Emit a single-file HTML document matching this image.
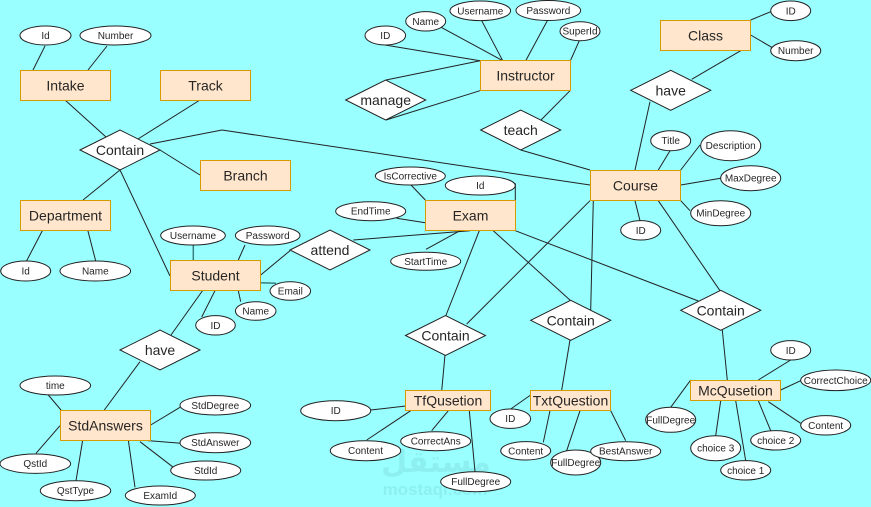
<!DOCTYPE html>
<html><head><meta charset="utf-8"><style>
html,body{margin:0;padding:0;background:#99ffff;}
svg{display:block;}
text{font-family:"Liberation Sans",Arial,sans-serif;fill:#262626;}
.e{fill:#ffe6cc;stroke:#d79b00;stroke-width:1;}
.d{fill:#fff;stroke:#222;stroke-width:1;}
.o{fill:#fff;stroke:#222;stroke-width:1;}
.l line,.l polyline{stroke:#222;stroke-width:1;fill:none;}
.t14{font-size:14px;}
.t10{font-size:10px;}
</style></head><body>
<svg width="871" height="507" viewBox="0 0 871 507" xmlns="http://www.w3.org/2000/svg">
<rect width="871" height="507" fill="#99ffff"/>
<g opacity="0.9">
<text x="436" y="472" text-anchor="middle" style="font-family:'DejaVu Sans',sans-serif;font-size:30px;font-weight:bold;fill:#8ceeee">مستقل</text>
<text x="435" y="495" text-anchor="middle" style="font-family:'Liberation Sans',sans-serif;font-size:17px;font-weight:bold;fill:#8ceeee">mostaql.com</text>
</g>
<g class="l">
<line x1="45" y1="46" x2="33" y2="70"/>
<line x1="107" y1="46" x2="88" y2="70"/>
<line x1="65" y1="100" x2="106" y2="137"/>
<line x1="200" y1="100" x2="138" y2="139"/>
<polyline points="150,144 222,130 590,185"/>
<line x1="160" y1="150" x2="200" y2="175"/>
<line x1="120" y1="170" x2="83" y2="200"/>
<line x1="120" y1="170" x2="170" y2="276"/>
<line x1="42.7" y1="230" x2="26" y2="262"/>
<line x1="87.7" y1="230" x2="95.7" y2="261"/>
<line x1="193.3" y1="245" x2="193.3" y2="260" style="stroke:#3a7f7f;stroke-width:1.5"/>
<line x1="245" y1="245" x2="238.3" y2="260"/>
<line x1="260.7" y1="275" x2="290" y2="250.7"/>
<line x1="260.7" y1="282.7" x2="276" y2="283.3" style="stroke:#3a7f7f;stroke-width:1.5"/>
<line x1="238.3" y1="290.7" x2="240.7" y2="301.7"/>
<line x1="215" y1="290.7" x2="201.7" y2="317"/>
<line x1="203" y1="290" x2="171" y2="335"/>
<line x1="140" y1="361.7" x2="104.3" y2="410"/>
<line x1="48.3" y1="395" x2="61" y2="410"/>
<line x1="150.7" y1="425" x2="180" y2="407.3"/>
<line x1="140" y1="440" x2="181" y2="443.3"/>
<line x1="140" y1="441.7" x2="173.3" y2="467.3"/>
<line x1="128.3" y1="440" x2="135" y2="487.3"/>
<line x1="82.7" y1="440" x2="76" y2="480.7"/>
<line x1="60" y1="425.7" x2="36" y2="453.3"/>
<line x1="385" y1="45" x2="480" y2="60.7"/>
<line x1="440" y1="26.7" x2="502.7" y2="60.7"/>
<line x1="481.7" y1="20.7" x2="502.7" y2="60.7"/>
<line x1="547.3" y1="20.7" x2="525.7" y2="60.7"/>
<line x1="579.3" y1="40.7" x2="570.7" y2="60"/>
<line x1="386" y1="80" x2="480" y2="60.7"/>
<line x1="386" y1="120" x2="480" y2="90.7"/>
<line x1="570" y1="90.7" x2="541" y2="120"/>
<line x1="520.7" y1="150" x2="590" y2="170"/>
<line x1="411" y1="185" x2="425.3" y2="200"/>
<line x1="515.3" y1="183.3" x2="515.3" y2="200"/>
<line x1="396.7" y1="218.3" x2="425.3" y2="222.7"/>
<line x1="353.3" y1="240" x2="470" y2="230.7"/>
<line x1="426" y1="249.3" x2="460" y2="230.7"/>
<line x1="479.3" y1="230.7" x2="445.7" y2="316"/>
<line x1="493.3" y1="230.7" x2="570.7" y2="300.7"/>
<line x1="515.3" y1="230.7" x2="698.3" y2="301"/>
<line x1="590" y1="200.7" x2="466.7" y2="324"/>
<line x1="593.3" y1="200.7" x2="590.7" y2="310"/>
<line x1="658.3" y1="200.7" x2="720" y2="290.7"/>
<line x1="635" y1="200.7" x2="640" y2="220.7"/>
<line x1="691.7" y1="79.3" x2="740.7" y2="50.7"/>
<line x1="650" y1="101.7" x2="635" y2="170"/>
<line x1="750.7" y1="20" x2="770.7" y2="11.7"/>
<line x1="750.7" y1="35" x2="771.7" y2="47.3"/>
<line x1="670" y1="150.7" x2="658.3" y2="170"/>
<line x1="700" y1="145" x2="680.7" y2="170"/>
<line x1="680.7" y1="185" x2="720.7" y2="178.3"/>
<line x1="680.7" y1="200.7" x2="690" y2="210.7"/>
<line x1="722.3" y1="330" x2="727.3" y2="380"/>
<line x1="790.7" y1="360" x2="758.3" y2="380"/>
<line x1="780.7" y1="390" x2="800.7" y2="380.7"/>
<line x1="768.3" y1="401.7" x2="800.7" y2="423.3"/>
<line x1="758.3" y1="400.7" x2="770.7" y2="430.7"/>
<line x1="735.7" y1="400.7" x2="745.7" y2="460.7"/>
<line x1="720.7" y1="400.7" x2="715.7" y2="435.7"/>
<line x1="690.7" y1="380" x2="670.7" y2="407.3"/>
<line x1="445" y1="355" x2="441.7" y2="390.7"/>
<line x1="370.7" y1="410" x2="405.7" y2="406"/>
<line x1="366.7" y1="440" x2="410.7" y2="410.7"/>
<line x1="431.7" y1="430.7" x2="448.3" y2="410.7"/>
<line x1="469.3" y1="410.7" x2="475" y2="471.7"/>
<line x1="570" y1="340" x2="561.7" y2="390"/>
<line x1="530.7" y1="395" x2="510.7" y2="409"/>
<line x1="550" y1="410.7" x2="543.3" y2="442.3"/>
<line x1="580" y1="410.7" x2="566.7" y2="450.7"/>
<line x1="610.7" y1="410.7" x2="625.7" y2="440.7"/>
</g>

<!-- Entities -->
<g>
<rect class="e" x="20.5" y="70.5" width="90" height="30"/><text class="t14" x="65.5" y="90.5" text-anchor="middle">Intake</text>
<rect class="e" x="160.5" y="70.5" width="90" height="30"/><text class="t14" x="205.5" y="90.5" text-anchor="middle">Track</text>
<rect class="e" x="200.5" y="160.5" width="90" height="30"/><text class="t14" x="245.5" y="180.5" text-anchor="middle">Branch</text>
<rect class="e" x="20.5" y="200.5" width="90" height="30"/><text class="t14" x="65.5" y="220.5" text-anchor="middle">Department</text>
<rect class="e" x="170.5" y="260.5" width="90" height="30"/><text class="t14" x="215.5" y="280.5" text-anchor="middle">Student</text>
<rect class="e" x="60.5" y="410.5" width="90" height="30"/><text class="t14" x="105.5" y="430.5" text-anchor="middle">StdAnswers</text>
<rect class="e" x="480.5" y="60.5" width="90" height="30"/><text class="t14" x="525.5" y="80.5" text-anchor="middle">Instructor</text>
<rect class="e" x="425.5" y="200.5" width="90" height="30"/><text class="t14" x="470.5" y="220.5" text-anchor="middle">Exam</text>
<rect class="e" x="590.5" y="170.5" width="90" height="30"/><text class="t14" x="635.5" y="190.5" text-anchor="middle">Course</text>
<rect class="e" x="660.5" y="20.5" width="90" height="30"/><text class="t14" x="705.5" y="40.5" text-anchor="middle">Class</text>
<rect class="e" x="405.5" y="390.5" width="85" height="20"/><text class="t14" x="448" y="405.5" text-anchor="middle">TfQusetion</text>
<rect class="e" x="530.5" y="390.5" width="80" height="20"/><text class="t14" x="570.5" y="405.5" text-anchor="middle">TxtQuestion</text>
<rect class="e" x="690.5" y="380.5" width="90" height="20"/><text class="t14" x="735.5" y="395.5" text-anchor="middle">McQusetion</text>
</g>

<!-- Relationships -->
<g>
<polygon class="d" points="80,150 120,130 160,150 120,170"/><text class="t14" x="120" y="155" text-anchor="middle">Contain</text>
<polygon class="d" points="345.7,100 385.7,80 425.7,100 385.7,120"/><text class="t14" x="385.7" y="105" text-anchor="middle">manage</text>
<polygon class="d" points="480.7,130 520.7,110 560.7,130 520.7,150"/><text class="t14" x="520.7" y="135" text-anchor="middle">teach</text>
<polygon class="d" points="630.7,90.3 670.7,70.3 710.7,90.3 670.7,110.3"/><text class="t14" x="670.7" y="95.3" text-anchor="middle">have</text>
<polygon class="d" points="290,250 330,230 370,250 330,270"/><text class="t14" x="330" y="255" text-anchor="middle">attend</text>
<polygon class="d" points="120,350 160,330 200,350 160,370"/><text class="t14" x="160" y="355" text-anchor="middle">have</text>
<polygon class="d" points="405.5,335.5 445.5,315.5 485.5,335.5 445.5,355.5"/><text class="t14" x="445.5" y="340.5" text-anchor="middle">Contain</text>
<polygon class="d" points="530.7,320.3 570.7,300.3 610.7,320.3 570.7,340.3"/><text class="t14" x="570.7" y="325.3" text-anchor="middle">Contain</text>
<polygon class="d" points="680.7,310.3 720.7,290.3 760.7,310.3 720.7,330.3"/><text class="t14" x="720.7" y="315.3" text-anchor="middle">Contain</text>
</g>

<!-- Attributes -->
<g>
<ellipse class="o" cx="45.5" cy="35.5" rx="25.5" ry="9.5"/><text class="t10" x="45.5" y="39" text-anchor="middle">Id</text>
<ellipse class="o" cx="115.5" cy="35.5" rx="35.5" ry="9.5"/><text class="t10" x="115.5" y="39" text-anchor="middle">Number</text>
<ellipse class="o" cx="25.7" cy="271" rx="25" ry="10"/><text class="t10" x="25.7" y="274.5" text-anchor="middle">Id</text>
<ellipse class="o" cx="95.3" cy="271" rx="35.3" ry="10"/><text class="t10" x="95.3" y="274.5" text-anchor="middle">Name</text>
<ellipse class="o" cx="193" cy="235.5" rx="32.3" ry="9.5"/><text class="t10" x="193" y="239" text-anchor="middle">Username</text>
<ellipse class="o" cx="267.7" cy="235.5" rx="32.3" ry="9.5"/><text class="t10" x="267.7" y="239" text-anchor="middle">Password</text>
<ellipse class="o" cx="290.3" cy="291" rx="20.3" ry="9.3"/><text class="t10" x="290.3" y="294.5" text-anchor="middle">Email</text>
<ellipse class="o" cx="255.7" cy="311" rx="20.3" ry="9.3"/><text class="t10" x="255.7" y="314.5" text-anchor="middle">Name</text>
<ellipse class="o" cx="215.5" cy="325.3" rx="19.8" ry="9.7"/><text class="t10" x="215.5" y="328.8" text-anchor="middle">ID</text>
<ellipse class="o" cx="55.3" cy="385.5" rx="35.3" ry="9.5"/><text class="t10" x="55.3" y="389" text-anchor="middle">time</text>
<ellipse class="o" cx="215.3" cy="405.3" rx="35.3" ry="9.7"/><text class="t10" x="215.3" y="408.8" text-anchor="middle">StdDegree</text>
<ellipse class="o" cx="215.3" cy="442.7" rx="35.3" ry="10"/><text class="t10" x="215.3" y="446.2" text-anchor="middle">StdAnswer</text>
<ellipse class="o" cx="205.7" cy="470.5" rx="35" ry="9.5"/><text class="t10" x="205.7" y="474" text-anchor="middle">StdId</text>
<ellipse class="o" cx="160.3" cy="495.5" rx="35" ry="9.5"/><text class="t10" x="160.3" y="499" text-anchor="middle">ExamId</text>
<ellipse class="o" cx="75.5" cy="490.7" rx="35.2" ry="10"/><text class="t10" x="75.5" y="494.2" text-anchor="middle">QstType</text>
<ellipse class="o" cx="35.3" cy="463.7" rx="35.3" ry="9.7"/><text class="t10" x="35.3" y="467.2" text-anchor="middle">QstId</text>
<ellipse class="o" cx="385.3" cy="35.5" rx="20.3" ry="9.5"/><text class="t10" x="385.3" y="39" text-anchor="middle">ID</text>
<ellipse class="o" cx="425.7" cy="21.3" rx="20" ry="9.7"/><text class="t10" x="425.7" y="24.8" text-anchor="middle">Name</text>
<ellipse class="o" cx="480.3" cy="10.8" rx="30.3" ry="9.8"/><text class="t10" x="480.3" y="14.3" text-anchor="middle">Username</text>
<ellipse class="o" cx="548.3" cy="10.5" rx="32.3" ry="10"/><text class="t10" x="548.3" y="14" text-anchor="middle">Password</text>
<ellipse class="o" cx="580" cy="31.2" rx="20" ry="9.5"/><text class="t10" x="580" y="34.7" text-anchor="middle">SuperId</text>
<ellipse class="o" cx="410.3" cy="176" rx="35" ry="9"/><text class="t10" x="410.3" y="179.5" text-anchor="middle">IsCorrective</text>
<ellipse class="o" cx="480.3" cy="185.5" rx="35" ry="9.5"/><text class="t10" x="480.3" y="189" text-anchor="middle">Id</text>
<ellipse class="o" cx="370.7" cy="211.2" rx="35" ry="9.5"/><text class="t10" x="370.7" y="214.7" text-anchor="middle">EndTime</text>
<ellipse class="o" cx="425.7" cy="261.3" rx="35" ry="9"/><text class="t10" x="425.7" y="264.8" text-anchor="middle">StartTime</text>
<ellipse class="o" cx="640.7" cy="230.3" rx="20" ry="9.7"/><text class="t10" x="640.7" y="233.8" text-anchor="middle">ID</text>
<ellipse class="o" cx="790.7" cy="10.8" rx="20" ry="9.8"/><text class="t10" x="790.7" y="14.3" text-anchor="middle">ID</text>
<ellipse class="o" cx="795.7" cy="50.7" rx="25" ry="10"/><text class="t10" x="795.7" y="54.2" text-anchor="middle">Number</text>
<ellipse class="o" cx="670.7" cy="140.7" rx="20" ry="10"/><text class="t10" x="670.7" y="144.2" text-anchor="middle">Title</text>
<ellipse class="o" cx="730.7" cy="145.7" rx="30" ry="15"/><text class="t10" x="730.7" y="149.2" text-anchor="middle">Description</text>
<ellipse class="o" cx="750.7" cy="178.2" rx="30" ry="12.5"/><text class="t10" x="750.7" y="181.7" text-anchor="middle">MaxDegree</text>
<ellipse class="o" cx="720.7" cy="213.2" rx="30" ry="12.5"/><text class="t10" x="720.7" y="216.7" text-anchor="middle">MinDegree</text>
<ellipse class="o" cx="790.7" cy="350.3" rx="20" ry="9.7"/><text class="t10" x="790.7" y="353.8" text-anchor="middle">ID</text>
<ellipse class="o" cx="835.7" cy="380.3" rx="35" ry="10.3"/><text class="t10" x="835.7" y="383.8" text-anchor="middle">CorrectChoice</text>
<ellipse class="o" cx="825.7" cy="425.3" rx="25" ry="9.7"/><text class="t10" x="825.7" y="428.8" text-anchor="middle">Content</text>
<ellipse class="o" cx="775.7" cy="440.3" rx="25" ry="9.7"/><text class="t10" x="775.7" y="443.8" text-anchor="middle">choice 2</text>
<ellipse class="o" cx="745.7" cy="470.3" rx="25" ry="9.7"/><text class="t10" x="745.7" y="473.8" text-anchor="middle">choice 1</text>
<ellipse class="o" cx="715.7" cy="448.2" rx="25" ry="12.5"/><text class="t10" x="715.7" y="451.7" text-anchor="middle">choice 3</text>
<ellipse class="o" cx="670.7" cy="419.8" rx="25" ry="12.5"/><text class="t10" x="670.7" y="423.3" text-anchor="middle">FullDegree</text>
<ellipse class="o" cx="335.7" cy="410.7" rx="35" ry="10"/><text class="t10" x="335.7" y="414.2" text-anchor="middle">ID</text>
<ellipse class="o" cx="365.5" cy="450.7" rx="35.2" ry="10"/><text class="t10" x="365.5" y="454.2" text-anchor="middle">Content</text>
<ellipse class="o" cx="435.7" cy="441.2" rx="35" ry="9.5"/><text class="t10" x="435.7" y="444.7" text-anchor="middle">CorrectAns</text>
<ellipse class="o" cx="475.7" cy="481.7" rx="35" ry="10"/><text class="t10" x="475.7" y="485.2" text-anchor="middle">FullDegree</text>
<ellipse class="o" cx="510.3" cy="418.7" rx="20.3" ry="9.7"/><text class="t10" x="510.3" y="422.2" text-anchor="middle">ID</text>
<ellipse class="o" cx="525.7" cy="450.8" rx="25" ry="9.2"/><text class="t10" x="525.7" y="454.3" text-anchor="middle">Content</text>
<ellipse class="o" cx="575.7" cy="462.5" rx="25" ry="12.5"/><text class="t10" x="575.7" y="466" text-anchor="middle">FullDegree</text>
<ellipse class="o" cx="625.7" cy="451.2" rx="35" ry="9.5"/><text class="t10" x="625.7" y="454.7" text-anchor="middle">BestAnswer</text>
</g>
</svg>
</body></html>
